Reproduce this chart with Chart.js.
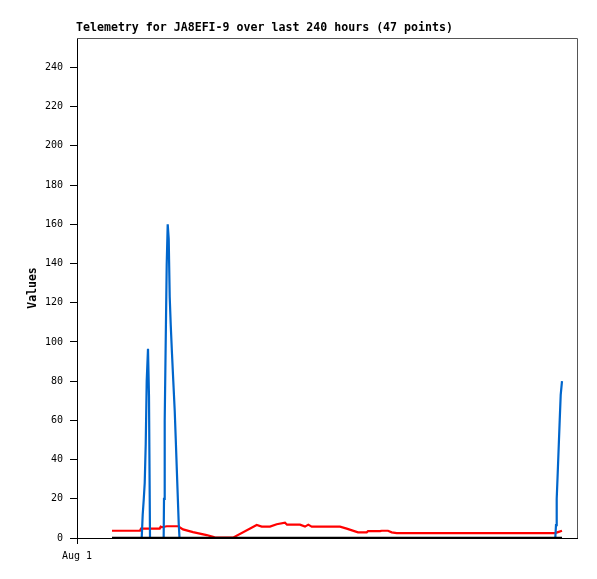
<!DOCTYPE html>
<html>
<head>
<meta charset="utf-8">
<script src="https://cdn.jsdelivr.net/npm/chart.js@4"></script>
<style>
  body { margin: 0; background: #fff; }
  canvas { display: block; }
</style>
</head>
<body>
<canvas id="myGraph" width="597" height="579"></canvas>
<script>
const titleText = "Telemetry for JA8EFI-9 over last 240 hours (47 points)";
const yTickValues = [0, 20, 40, 60, 80, 100, 120, 140, 160, 180, 200, 220, 240];
const xTickValues = [0];
const xTickLabels = ["Aug 1"];

// hours since start of window
const blackHours = [16.8, 232.8];
const blackValues = [0, 0];

const blueHours = [16.8, 31.06, 31.54, 32.02, 32.5, 32.98, 33.46, 34.08, 34.56, 35.04,
  41.6, 41.76, 42.1, 42.58, 43.06, 43.54, 44.02, 44.5, 44.98, 45.6, 46.22, 46.9, 47.38,
  47.86, 48.34, 48.82, 49.2,
  229.58, 229.92, 230.26, 230.74, 231.22, 231.7, 232.18, 232.8];
const blueValues = [0, 0, 12, 19.4, 28, 47.5, 80, 96.5, 72, 0,
  0, 20, 60, 100, 139.5, 160, 152.6, 123, 109, 94, 80, 65, 51,
  36.4, 22, 7.6, 0,
  0, 6.6, 20, 33, 46.5, 60, 73, 80];

const redHours = [16.8, 30.24, 30.72, 39.7, 40.18, 40.8, 43.06, 48.62, 50.88, 55.68,
  62.26, 65.28, 66.24, 74.88, 86.26, 88.66, 92.64, 95.86, 99.84, 100.8, 107.04, 109.44,
  111.02, 112.66, 126.24, 129.46, 134.88, 139.06, 139.68, 145.44, 146.26, 149.28,
  151.06, 153.46, 229.44, 230.88, 232.8];
const redValues = [3.7, 3.7, 4.8, 4.8, 5.8, 5.5, 6, 6, 4.4, 3,
  1.5, 0.6, 0.2, 0.2, 6.6, 5.8, 5.8, 7, 7.8, 6.8, 6.8, 5.8,
  6.8, 5.8, 5.8, 4.8, 2.9, 2.9, 3.5, 3.5, 3.7, 3.7,
  2.9, 2.5, 2.5, 3, 3.7];

function toPoints(xs, ys) {
  return xs.map((x, i) => ({ x: x, y: ys[i] }));
}

const mono = "'DejaVu Sans Mono', 'Liberation Mono', monospace";

// title above the plot box, plus the grey top/right frame
const framePlugin = {
  id: 'frame',
  afterDraw(chart) {
    const ctx = chart.ctx;
    const a = chart.chartArea;
    ctx.save();
    ctx.strokeStyle = '#555';
    ctx.lineWidth = 1;
    ctx.beginPath();
    ctx.moveTo(a.left, a.top + 0.5);
    ctx.lineTo(a.right + 0.5, a.top + 0.5);
    ctx.lineTo(a.right + 0.5, a.bottom);
    ctx.stroke();
    ctx.fillStyle = '#000';
    ctx.font = "bold 11.6px " + mono;
    ctx.textBaseline = 'alphabetic';
    ctx.textAlign = 'left';
    ctx.fillText(titleText, a.left - 1, 31);
    ctx.restore();
  }
};

new Chart(document.getElementById('myGraph'), {
  type: 'line',
  data: {
    datasets: [
      {
        data: toPoints(blackHours, blackValues),
        borderColor: '#000',
        borderWidth: 2.5,
        pointRadius: 0
      },
      {
        data: toPoints(blueHours, blueValues),
        borderColor: '#0066cc',
        borderWidth: 2.2,
        pointRadius: 0
      },
      {
        data: toPoints(redHours, redValues),
        borderColor: '#ff0000',
        borderWidth: 2.2,
        pointRadius: 0
      }
    ]
  },
  options: {
    responsive: false,
    animation: false,
    parsing: false,
    layout: { padding: { top: 38, right: 20, left: 0, bottom: 0 } },
    plugins: {
      legend: { display: false },
      title: { display: false },
      tooltip: { enabled: false }
    },
    elements: { line: { tension: 0 } },
    scales: {
      x: {
        type: 'linear',
        min: 0,
        max: 240,
        afterBuildTicks: (scale) => { scale.ticks = xTickValues.map(v => ({ value: v })); },
        afterFit: (scale) => { scale.height = 41; },
        grid: { drawOnChartArea: false, drawTicks: true, tickLength: 6, color: '#000' },
        border: { color: '#000', width: 1 },
        ticks: {
          color: '#000',
          padding: 6,
          maxRotation: 0,
          autoSkip: false,
          font: { family: mono, size: 10 },
          callback: (v) => xTickLabels[xTickValues.indexOf(v)]
        }
      },
      y: {
        min: 0,
        max: 255,
        afterBuildTicks: (scale) => { scale.ticks = yTickValues.map(v => ({ value: v })); },
        afterFit: (scale) => { scale.width = 77; },
        grid: { drawOnChartArea: false, drawTicks: true, tickLength: 7, color: '#000' },
        border: { color: '#000', width: 1 },
        ticks: {
          color: '#000',
          padding: 7,
          font: { family: mono, size: 10 }
        },
        title: {
          display: true,
          text: 'Values',
          color: '#000',
          padding: { top: 26, bottom: 0 },
          font: { family: mono, size: 11.5, weight: 'bold' }
        }
      }
    }
  },
  plugins: [framePlugin]
});
</script>
</body>
</html>
